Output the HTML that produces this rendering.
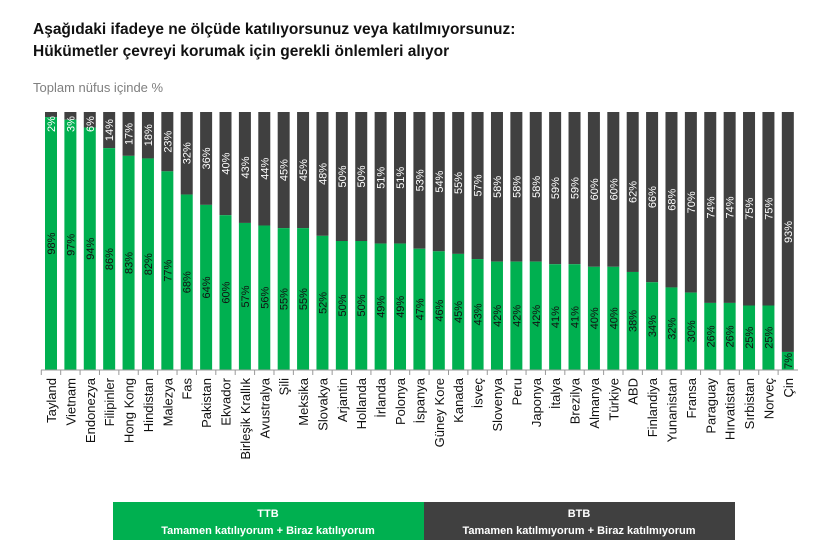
<!DOCTYPE html>
<html><head><meta charset="utf-8"><style>
body{margin:0;background:#fff;font-family:"Liberation Sans",Arial,sans-serif}
</style></head><body>
<svg width="829" height="547" xmlns="http://www.w3.org/2000/svg" font-family="Liberation Sans, Arial, sans-serif">
<text x="33" y="34" font-size="15.5" font-weight="bold" fill="#111">Aşağıdaki ifadeye ne ölçüde katılıyorsunuz veya katılmıyorsunuz:</text>
<text x="33" y="56" font-size="15.5" font-weight="bold" fill="#111">Hükümetler çevreyi korumak için gerekli önlemleri alıyor</text>
<text x="33" y="92" font-size="13" fill="#7f7f7f">Toplam nüfus içinde %</text>
<g id="bars"></g>
<line x1="41" y1="370" x2="798" y2="370" stroke="#999" stroke-width="1"/>
<rect x="113" y="502" width="311" height="38" fill="#00b050"/>
<rect x="424" y="502" width="311" height="38" fill="#404040"/>
<text x="268" y="517" font-size="11" font-weight="bold" fill="#fff" text-anchor="middle">TTB</text>
<text x="268" y="534" font-size="11" font-weight="bold" fill="#fff" text-anchor="middle">Tamamen katılıyorum + Biraz katılıyorum</text>
<text x="579" y="517" font-size="11" font-weight="bold" fill="#fff" text-anchor="middle">BTB</text>
<text x="579" y="534" font-size="11" font-weight="bold" fill="#fff" text-anchor="middle">Tamamen katılmıyorum + Biraz katılmıyorum</text>
</svg>
<script>
(function(){
const d=[["Tayland",98,2],["Vietnam",97,3],["Endonezya",94,6],["Filipinler",86,14],["Hong Kong",83,17],["Hindistan",82,18],["Malezya",77,23],["Fas",68,32],["Pakistan",64,36],["Ekvador",60,40],["Birleşik Krallık",57,43],["Avustralya",56,44],["Şili",55,45],["Meksika",55,45],["Slovakya",52,48],["Arjantin",50,50],["Hollanda",50,50],["İrlanda",49,51],["Polonya",49,51],["İspanya",47,53],["Güney Kore",46,54],["Kanada",45,55],["İsveç",43,57],["Slovenya",42,58],["Peru",42,58],["Japonya",42,58],["İtalya",41,59],["Brezilya",41,59],["Almanya",40,60],["Türkiye",40,60],["ABD",38,62],["Finlandiya",34,66],["Yunanistan",32,68],["Fransa",30,70],["Paraguay",26,74],["Hırvatistan",26,74],["Sırbistan",25,75],["Norveç",25,75],["Çin",7,93]];
const T=112,B=370,H=B-T;let s="";
d.forEach((r,i)=>{const x=45+i*19.39,cx=x+6;const gh=r[1]/100*H;const gy=B-gh;
s+=`<rect x="${x}" y="${T}" width="12" height="${gy-T}" fill="#404040"/>`;
s+=`<rect x="${x}" y="${gy}" width="12" height="${gh}" fill="#00b050"/>`;
s+=`<line x1="${x-3.7}" y1="370" x2="${x-3.7}" y2="375" stroke="#999"/>`;
s+=`<text transform="translate(${cx+4},${(gy+B)/2}) rotate(-90)" font-size="11" text-anchor="middle" fill="#111">${r[1]}%</text>`;
let dy=(T+gy)/2; if(dy<T+12) dy=T+12;
s+=`<text transform="translate(${cx+4},${dy}) rotate(-90)" font-size="11" text-anchor="middle" fill="#fff">${r[2]}%</text>`;
s+=`<text transform="translate(${cx+5},378) rotate(-90)" font-size="13" text-anchor="end" fill="#111">${r[0]}</text>`;});
document.getElementById("bars").innerHTML=s;
})();
</script>
</body></html>
